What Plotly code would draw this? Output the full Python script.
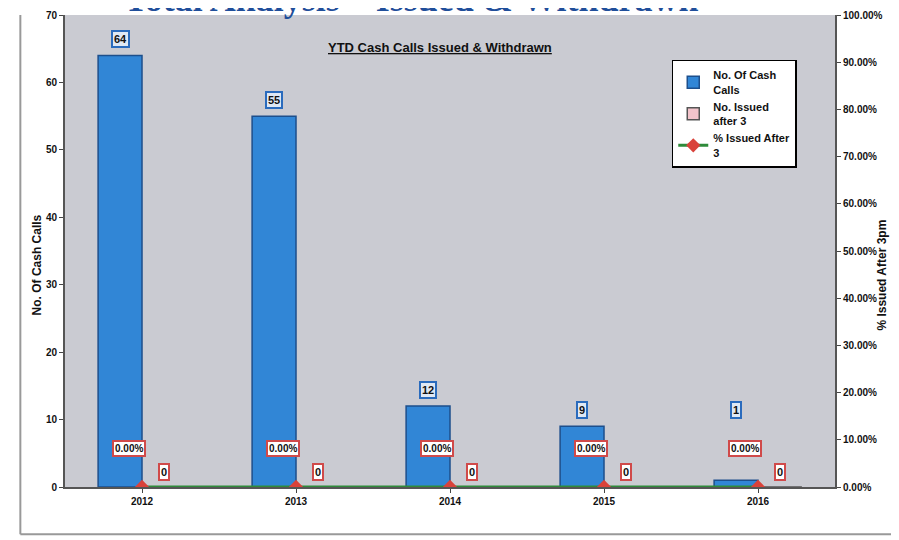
import plotly.graph_objects as go

years = ['2012', '2013', '2014', '2015', '2016']
cash_calls = [64, 55, 12, 9, 1]
issued_after_3 = [0, 0, 0, 0, 0]
pct_after_3 = [0.0, 0.0, 0.0, 0.0, 0.0]

BOLD = "Liberation Sans"

fig = go.Figure()
fig.add_trace(go.Bar(
    x=years, y=cash_calls, name='No. Of Cash<br>Calls',
    marker=dict(color='#3186d6', line=dict(color='#1d4f8c', width=1.5)),
))
fig.add_trace(go.Bar(
    x=years, y=issued_after_3, name='No. Issued<br>after 3',
    marker=dict(color='#f3c4cb', line=dict(color='#555555', width=1.5)),
))
fig.add_trace(go.Scatter(
    x=years, y=pct_after_3, name='% Issued After<br>3', yaxis='y2',
    mode='lines+markers',
    line=dict(color='#2e8b3a', width=3),
    marker=dict(symbol='diamond', size=11, color='#d9423a'),
))

annotations = []
# data labels (x given as category index so '2012' isn't read as a position)
for i, v in enumerate(cash_calls):
    annotations.append(dict(
        x=i, y=max(v, 9), xref='x', yref='y', text=f'<b>{v}</b>',
        showarrow=False, xshift=-22, yshift=7, yanchor='bottom',
        font=dict(family=BOLD, size=11, color='#111'),
        bgcolor='#dfe8f4', bordercolor='#2a6bbd', borderwidth=2, borderpad=1,
    ))
for i, v in enumerate(issued_after_3):
    annotations.append(dict(
        x=i, y=v, xref='x', yref='y', text=f'<b>{v}</b>',
        showarrow=False, xshift=22, yshift=6, yanchor='bottom',
        font=dict(family=BOLD, size=11, color='#111'),
        bgcolor='#ffffff', bordercolor='#d04a4a', borderwidth=2, borderpad=1,
    ))
for i, v in enumerate(pct_after_3):
    annotations.append(dict(
        x=i, y=v, xref='x', yref='y2', text=f'<b>{v:.2%}</b>',
        showarrow=False, xshift=-13, yshift=30, yanchor='bottom',
        font=dict(family=BOLD, size=10, color='#111'),
        bgcolor='#ffffff', bordercolor='#d04a4a', borderwidth=2, borderpad=1,
    ))

annotations += [
    dict(x=0.487, y=0.952, xref='paper', yref='paper', showarrow=False,
         text='<b><u>YTD Cash Calls Issued & Withdrawn</u></b>',
         font=dict(family=BOLD, size=13, color='#111')),
    dict(x=-0.036, y=0.47, xref='paper', yref='paper', showarrow=False,
         xanchor='center', text='<b>No. Of Cash Calls</b>', textangle=-90,
         font=dict(family=BOLD, size=12, color='#111')),
    dict(x=1.061, y=0.45, xref='paper', yref='paper', showarrow=False,
         xanchor='center', text='<b>% Issued After 3pm</b>', textangle=-90,
         font=dict(family=BOLD, size=12, color='#111')),
    dict(x=0.45, y=1.0, xref='paper', yref='paper', showarrow=False,
         yanchor='bottom', yshift=-6,
         text='<b>Total Analysis \u2013 Issued & Withdrawn</b>',
         font=dict(family='Liberation Serif', size=36, color='#1f4e9a')),
]

fig.update_layout(
    width=891, height=532,
    margin=dict(l=57, r=64, t=7, b=53, autoexpand=False),
    paper_bgcolor='white', plot_bgcolor='#cacbd2',
    barmode='group', bargap=0.43, bargroupgap=0,
    font=dict(family=BOLD, size=10, color='#111'),
    showlegend=True,
    legend=dict(x=0.788, y=0.905, xanchor='left', yanchor='top',
                bgcolor='white', bordercolor='black', borderwidth=1.5,
                font=dict(family=BOLD, size=11, color='#111', weight='bold'),
                tracegroupgap=0),
    xaxis=dict(type='category', categoryorder='array', categoryarray=years,
               range=[-0.5, len(years) - 0.5], showgrid=False,
               ticks='outside', ticklen=4,
               linecolor='#555', linewidth=2, showline=True,
               tickfont=dict(size=10, weight='bold')),
    yaxis=dict(range=[0, 70], dtick=10, showgrid=False, zeroline=False,
               showline=True, linecolor='#555', linewidth=2,
               ticks='outside', ticklen=4, tickfont=dict(size=10, weight='bold')),
    yaxis2=dict(range=[0, 1], dtick=0.1, tickformat='.2%', overlaying='y',
                side='right', showgrid=False, zeroline=False,
                showline=True, linecolor='#555', linewidth=2,
                ticks='outside', ticklen=4, tickfont=dict(size=10, weight='bold')),
    annotations=annotations,
    shapes=[
        dict(type='line', xref='paper', yref='paper', x0=-0.058, x1=-0.058,
             y0=-0.1, y1=1.0, line=dict(color='#999', width=2)),
        dict(type='line', xref='paper', yref='paper', x0=-0.058, x1=1.1,
             y0=-0.1, y1=-0.1, line=dict(color='#999', width=2)),
    ],
)

fig.write_html("out.html")
